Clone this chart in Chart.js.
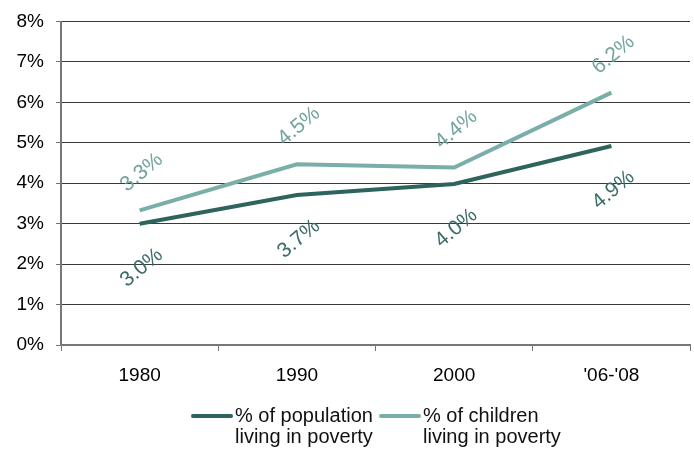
<!DOCTYPE html>
<html>
<head>
<meta charset="utf-8">
<script src="https://cdn.jsdelivr.net/npm/chart.js@4/dist/chart.umd.min.js"></script>
<style>
  html, body { margin: 0; padding: 0; background: #fff; }
  #wrap { width: 694px; height: 450px; position: relative; }
</style>
</head>
<body>
<div id="wrap"><canvas id="chart"></canvas></div>
<script>
// ===== POVERTY RATES — LINE CHART =====

const years = ['1980', '1990', '2000', "'06-'08"];
const populationPct = [3.0, 3.71, 3.98, 4.92];
const childrenPct = [3.33, 4.47, 4.39, 6.24];
const seriesNames = [
  ['% of population', 'living in poverty'],
  ['% of children', 'living in poverty']
];

const colors = {
  dark: '#2e645e',
  light: '#7aaea9',
  darkText: '#3a6d67',
  lightText: '#72a39e',
  grid: '#3a3a3a',
  axis: '#777777'
};
const FONT = "'Liberation Sans', Arial, sans-serif";

// rotated value labels, children above the point, population below
const valueLabels = {
  id: 'valueLabels',
  afterDatasetsDraw(chart) {
    const ctx = chart.ctx;
    const offsets = [44, -38];
    const tints = [colors.darkText, colors.lightText];
    chart.data.datasets.forEach((ds, di) => {
      const meta = chart.getDatasetMeta(di);
      meta.data.forEach((pt, i) => {
        ctx.save();
        ctx.translate(pt.x + 2, pt.y + offsets[di]);
        ctx.rotate(-40 * Math.PI / 180);
        ctx.font = '21px ' + FONT;
        ctx.fillStyle = tints[di];
        ctx.textAlign = 'center';
        ctx.textBaseline = 'middle';
        ctx.fillText(ds.data[i].toFixed(1) + '%', 0, 0);
        ctx.restore();
      });
    });
  }
};

// legend under the plot, centred on the plot area, two-line labels
const sideLegend = {
  id: 'sideLegend',
  afterDraw(chart) {
    const ctx = chart.ctx;
    const starts = [193, 381];
    const lineY = 416;
    chart.data.datasets.forEach((ds, di) => {
      const x = starts[di];
      ctx.save();
      ctx.strokeStyle = ds.borderColor;
      ctx.lineWidth = 4;
      ctx.lineCap = 'round';
      ctx.beginPath();
      ctx.moveTo(x, lineY);
      ctx.lineTo(x + 38, lineY);
      ctx.stroke();
      ctx.font = '20px ' + FONT;
      ctx.fillStyle = '#111';
      ctx.textAlign = 'left';
      ctx.textBaseline = 'middle';
      seriesNames[di].forEach((t, li) => ctx.fillText(t, x + 42, lineY + li * 21));
      ctx.restore();
    });
  }
};

new Chart(document.getElementById('chart'), {
  type: 'line',
  data: {
    labels: years,
    datasets: [
      {
        label: seriesNames[0].join(' '),
        data: populationPct,
        borderColor: colors.dark,
        backgroundColor: colors.dark,
        borderWidth: 4,
        pointRadius: 0,
        tension: 0
      },
      {
        label: seriesNames[1].join(' '),
        data: childrenPct,
        borderColor: colors.light,
        backgroundColor: colors.light,
        borderWidth: 4,
        pointRadius: 0,
        tension: 0
      }
    ]
  },
  options: {
    responsive: true,
    maintainAspectRatio: false,
    animation: false,
    layout: { padding: { left: 0, right: 4, top: 20, bottom: 0 } },
    plugins: {
      legend: { display: false },
      tooltip: { enabled: false }
    },
    scales: {
      x: {
        offset: true,
        grid: {
          offset: true,
          drawOnChartArea: true,
          color: c => (c.index === years.length ? colors.grid : 'transparent'),
          tickColor: colors.axis,
          tickLength: 6
        },
        border: { display: true, color: colors.axis, width: 2 },
        ticks: { color: '#000', font: { family: FONT, size: 19 }, padding: 13 },
        afterFit: s => { s.height = 105; }
      },
      y: {
        min: 0,
        max: 8,
        ticks: {
          stepSize: 1,
          color: '#000',
          font: { family: FONT, size: 19, lineHeight: 1 },
          padding: 12,
          callback: v => v + '%'
        },
        grid: { color: colors.grid, lineWidth: 1, tickLength: 5, tickColor: colors.axis },
        border: { display: true, color: colors.axis, width: 2 },
        afterFit: s => { s.width = 61; }
      }
    }
  },
  plugins: [valueLabels, sideLegend]
});
</script>
</body>
</html>
